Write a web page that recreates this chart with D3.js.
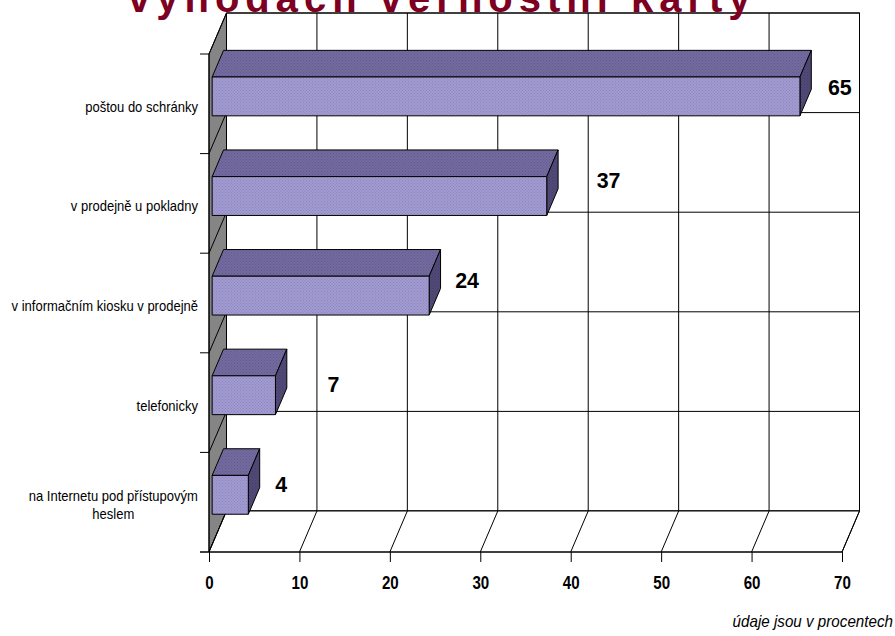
<!DOCTYPE html>
<html>
<head>
<meta charset="utf-8">
<script src="https://cdn.jsdelivr.net/npm/d3@7"></script>
<style>
  html, body { margin: 0; padding: 0; background: #fff; }
  svg { display: block; }
  text { font-family: "Liberation Sans Narrow", "Arial Narrow", "Liberation Sans", Arial, sans-serif; }
</style>
</head>
<body>
<svg id="chart" width="895" height="636"></svg>
<script>
// Data
const categories = [
  "poštou do schránky",
  "v prodejně u pokladny",
  "v informačním kiosku v prodejně",
  "telefonicky",
  "na Internetu pod přístupovým\nheslem"
];
const values = [65, 37, 24, 7, 4];
const xTicks = [0, 10, 20, 30, 40, 50, 60, 70];
const titleText = "výhodách věrnostní karty";
const noteText = "údaje jsou v procentech";

// Label nudges relative to the front top-right corner of each bar
const labelNudge = [[28, 18], [50, 11], [26, 12], [52, 16], [27, 17]];

const svg = d3.select("#chart");

// 3D projection: depth 0 = front plane, depth 1 = back wall
const DX = 17.5, DY = -41;
const x = d3.scaleLinear().domain([0, 70]).range([209, 842]);
const y = d3.scaleBand().domain(categories).range([54, 552]).paddingInner(0).paddingOuter(0);
const yTop = y.range()[0], yBot = y.range()[1];
const P = (v, yy, d) => [x(v) + d * DX, yy + d * DY];
const poly = pts => pts.map(p => p.join(",")).join(" ");

// Condensed text: placed with a transform and squeezed horizontally
function condensed(sel, px, py, sx) {
  return sel.attr("transform", `translate(${px},${py}) scale(${sx},1)`).attr("x", 0).attr("y", 0);
}

// Back wall
const backL = x(0) + DX, backR = x(70) + DX;
const backT = yTop + DY, backB = yBot + DY;
svg.append("rect")
  .attr("x", backL).attr("y", backT)
  .attr("width", backR - backL).attr("height", backB - backT)
  .attr("fill", "#fff").attr("stroke", "#000").attr("stroke-width", 1);

// Back wall grid: vertical lines at ticks, horizontal at category boundaries
svg.append("g").selectAll("line").data(xTicks).join("line")
  .attr("x1", d => x(d) + DX).attr("x2", d => x(d) + DX)
  .attr("y1", backT).attr("y2", backB)
  .attr("stroke", "#000").attr("stroke-width", 1);
const bounds = categories.map(c => y(c)).concat([yBot]);
svg.append("g").selectAll("line").data(bounds).join("line")
  .attr("x1", backL).attr("x2", backR)
  .attr("y1", d => d + DY).attr("y2", d => d + DY)
  .attr("stroke", "#000").attr("stroke-width", 1);

// Side wall
svg.append("polygon")
  .attr("points", poly([P(0, yTop, 0), P(0, yBot, 0), P(0, yBot, 1), P(0, yTop, 1)]))
  .attr("fill", "#858585").attr("stroke", "#000").attr("stroke-width", 1);
svg.append("g").selectAll("line").data(bounds).join("line")
  .attr("x1", x(0)).attr("y1", d => d)
  .attr("x2", x(0) + DX).attr("y2", d => d + DY)
  .attr("stroke", "#000").attr("stroke-width", 1);

// Floor
svg.append("polygon")
  .attr("points", poly([P(0, yBot, 0), P(70, yBot, 0), P(70, yBot, 1), P(0, yBot, 1)]))
  .attr("fill", "#fff").attr("stroke", "#000").attr("stroke-width", 1);
svg.append("g").selectAll("line").data(xTicks).join("line")
  .attr("x1", d => x(d)).attr("y1", yBot)
  .attr("x2", d => x(d) + DX).attr("y2", yBot + DY)
  .attr("stroke", "#000").attr("stroke-width", 1);

// Dotted fill patterns for bar faces
const defs = svg.append("defs");
function dots(id, base, dot) {
  const p = defs.append("pattern").attr("id", id)
    .attr("width", 3).attr("height", 3).attr("patternUnits", "userSpaceOnUse");
  p.append("rect").attr("width", 3).attr("height", 3).attr("fill", base);
  p.append("rect").attr("x", 0).attr("y", 0).attr("width", 1).attr("height", 1).attr("fill", dot);
  p.append("rect").attr("x", 1.5).attr("y", 1.5).attr("width", 1).attr("height", 1).attr("fill", dot);
}
dots("pFront", "#a29bd2", "#8c84bb");
dots("pTop", "#736b9f", "#625a8c");
dots("pSide", "#514a78", "#453e68");

// Bars
const d0 = 0.18, d1 = 0.83;
const faceOff = 0.305, faceH = 0.39;
const bars = svg.append("g").selectAll("g").data(values).join("g");
bars.each(function(v, i) {
  const g = d3.select(this);
  const yt = y(categories[i]) + y.bandwidth() * faceOff;
  const yb = yt + y.bandwidth() * faceH;
  g.append("polygon")
    .attr("points", poly([P(0, yt, d0), P(v, yt, d0), P(v, yt, d1), P(0, yt, d1)]))
    .attr("fill", "url(#pTop)").attr("stroke", "#000").attr("stroke-width", 1);
  g.append("polygon")
    .attr("points", poly([P(v, yt, d0), P(v, yt, d1), P(v, yb, d1), P(v, yb, d0)]))
    .attr("fill", "url(#pSide)").attr("stroke", "#000").attr("stroke-width", 1);
  g.append("polygon")
    .attr("points", poly([P(0, yt, d0), P(v, yt, d0), P(v, yb, d0), P(0, yb, d0)]))
    .attr("fill", "url(#pFront)").attr("stroke", "#000").attr("stroke-width", 1);
  const c = P(v, yt, d0);
  condensed(g.append("text"), c[0] + labelNudge[i][0], c[1] + labelNudge[i][1], 0.93)
    .attr("font-size", 23).attr("font-weight", "bold").attr("fill", "#000")
    .text(v);
});

// Front axes
svg.append("line").attr("x1", x(0)).attr("x2", x(0)).attr("y1", yTop).attr("y2", yBot)
  .attr("stroke", "#000").attr("stroke-width", 1);
svg.append("g").selectAll("line").data(bounds).join("line")
  .attr("x1", x(0) - 9).attr("x2", x(0)).attr("y1", d => d).attr("y2", d => d)
  .attr("stroke", "#000").attr("stroke-width", 1);

const xAxis = d3.axisBottom(x).tickValues(xTicks).tickSize(10).tickSizeOuter(0).tickPadding(14);
const ax = svg.append("g").attr("transform", `translate(0,${yBot})`).call(xAxis);
ax.select(".domain").remove();
ax.selectAll(".tick line").attr("stroke", "#000");
ax.selectAll(".tick text")
  .attr("font-size", 18).attr("font-weight", "bold").attr("fill", "#000")
  .attr("dy", null)
  .attr("transform", "translate(0,37) scale(0.84,1)").attr("y", 0);
ax.attr("font-family", null);
svg.append("line").attr("x1", x(0) - 9).attr("x2", x(70)).attr("y1", yBot).attr("y2", yBot)
  .attr("stroke", "#000").attr("stroke-width", 1);

// Category labels
const catG = svg.append("g");
categories.forEach(c => {
  const lines = c.split("\n");
  const cy = y(c) + y.bandwidth() / 2;
  const lh = 18.5;
  const base0 = cy + 8 - (lines.length - 1) * lh / 2;
  const right = x(0) - 11;
  const sx = 0.93;
  const t = catG.append("text").attr("font-size", 14).attr("fill", "#000");
  lines.forEach((ln, k) => {
    t.append("tspan").attr("x", 0).attr("y", k * lh).text(ln);
  });
  if (lines.length === 1) {
    t.attr("text-anchor", "end");
    condensed(t, right, base0, sx);
    t.selectAll("tspan").attr("x", 0);
  } else {
    let maxW = 0;
    t.selectAll("tspan").each(function() { maxW = Math.max(maxW, this.getComputedTextLength()); });
    t.attr("text-anchor", "middle");
    t.attr("transform", `translate(${right - maxW * sx / 2},${base0}) scale(${sx},1)`);
  }
});

// Title (partly above the visible area)
svg.append("text")
  .attr("x", 128).attr("y", 12)
  .attr("font-family", "'Liberation Sans', Arial, sans-serif")
  .attr("font-size", 40).attr("font-weight", "bold")
  .attr("letter-spacing", 6)
  .attr("fill", "#7d0022")
  .text(titleText);

// Footnote
condensed(svg.append("text"), 893, 627, 0.95)
  .attr("text-anchor", "end")
  .attr("font-size", 16).attr("font-style", "italic").attr("fill", "#000")
  .text(noteText);
</script>
</body>
</html>
